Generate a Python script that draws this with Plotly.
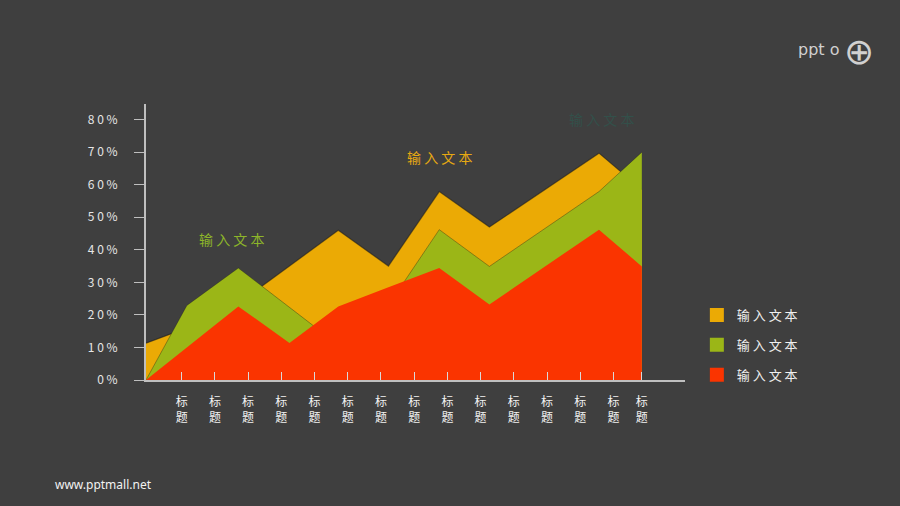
import plotly.graph_objects as go

# ---- data (x in category-label units, y in %) ----
x_pts = [0, 1.23, 2.78, 4.32, 5.79, 7.30, 8.83, 10.34, 13.64, 14.93]
series_yellow = [11.3, 16.0, 23.5, 35.0, 46.0, 35.0, 57.9, 47.0, 69.7, 58.5]
series_green = [0, 22.9, 34.4, 22.4, 10.8, 23.0, 46.2, 34.9, 57.9, 70.0]
series_red = [0, 10.0, 22.6, 11.4, 22.6, 28.5, 34.4, 23.2, 46.2, 34.9]

series_names = ["输 入 文 本", "输 入 文 本", "输 入 文 本"]
colors = ["#EBAA05", "#9BB617", "#FA3400"]

x_labels = ["标<br>题"] * 15
y_ticks = [0, 10, 20, 30, 40, 50, 60, 70, 80]
y_labels = ["0 %", "1 0 %", "2 0 %", "3 0 %", "4 0 %", "5 0 %", "6 0 %", "7 0 %", "8 0 %"]

label_green = "输 入 文 本"
label_orange = "输 入 文 本"
label_faint = "输 入 文 本"

BG = "#3F3F3F"
FONT = "Noto Sans CJK SC, Noto Sans, sans-serif"

tick_pos = [1.075 + k for k in range(14)] + [x_pts[-1]]

fig = go.Figure()

all_series = [series_yellow, series_green, series_red]
line_styles = [dict(color="rgba(25,25,25,0.55)", width=1.2),
               dict(color="rgba(25,25,25,0.35)", width=1.0),
               dict(color=colors[2], width=0)]
for vals, col, ln in zip(all_series, colors, line_styles):
    fig.add_trace(go.Scatter(
        x=x_pts, y=vals, mode="lines", fill="tozeroy",
        fillcolor=col, line=ln, showlegend=False, hoverinfo="skip"))

# legend entries (yellow, green, red top to bottom)
for i, (name, col) in enumerate(zip(series_names, colors)):
    fig.add_trace(go.Scatter(
        x=[None], y=[None], mode="markers", name=name,
        legendgroup=f"g{i}",
        marker=dict(symbol="square", size=14, color=col)))

fig.update_layout(
    width=900, height=506,
    paper_bgcolor=BG, plot_bgcolor=BG,
    margin=dict(l=146, r=215, t=104, b=126, autoexpand=False),
    font=dict(family=FONT, color="#E6E6E6"),
    showlegend=True,
    legend=dict(x=1.022, y=0.29, xanchor="left", yanchor="top",
                font=dict(size=13, color="#F0F0F0"),
                bgcolor="rgba(0,0,0,0)", tracegroupgap=10,
                itemwidth=30),
    xaxis=dict(range=[0, 16.23], showgrid=False, zeroline=False,
               showline=True, linecolor="#BFBFBF", linewidth=2,
               tickmode="array", tickvals=tick_pos, ticktext=x_labels,
               ticks="inside", ticklen=8, tickcolor="#D9D9D9", tickwidth=1,
               tickfont=dict(size=12, color="#F2F2F2"),
               ticklabelstandoff=10, fixedrange=True),
    yaxis=dict(range=[0, 84.8], showgrid=False, zeroline=False,
               showline=True, linecolor="#BFBFBF", linewidth=2,
               tickmode="array", tickvals=y_ticks, ticktext=y_labels,
               ticks="outside", ticklen=10, tickcolor="#BFBFBF", tickwidth=1,
               tickfont=dict(size=12, color="#E6E6E6"),
               ticklabelstandoff=14, fixedrange=True),
)

fig.add_annotation(x=2.56, y=43.4, xref="x", yref="y", text=label_green,
                   showarrow=False, font=dict(size=14, color="#8DB52A"))
fig.add_annotation(x=8.83, y=68.6, xref="x", yref="y", text=label_orange,
                   showarrow=False, font=dict(size=14, color="#E6A912"))
fig.add_annotation(x=13.73, y=80.2, xref="x", yref="y", text=label_faint,
                   showarrow=False, font=dict(size=14, color="#33504A"))

# logo & footer
fig.add_annotation(x=1.206, y=1.196, xref="paper", yref="paper",
                   xanchor="left", yanchor="middle",
                   text="ppt o", showarrow=False,
                   font=dict(size=16, color="#D0D0D0", family="DejaVu Sans ExtraLight, DejaVu Sans"))
fig.add_annotation(x=1.323, y=1.19, xref="paper", yref="paper",
                   xanchor="center", yanchor="middle",
                   text="⊕", showarrow=False,
                   font=dict(size=36, color="#D0D0D0", family="DejaVu Sans"))
fig.add_annotation(x=-0.172, y=-0.38, xref="paper", yref="paper",
                   xanchor="left", yanchor="middle",
                   text="www.pptmall.net", showarrow=False,
                   font=dict(size=12, color="#F2F2F2", family="Noto Sans, sans-serif"))

fig.write_html("out.html", config={"displayModeBar": False},
               post_script="document.body.style.margin='0';document.body.style.background='#3F3F3F';")
